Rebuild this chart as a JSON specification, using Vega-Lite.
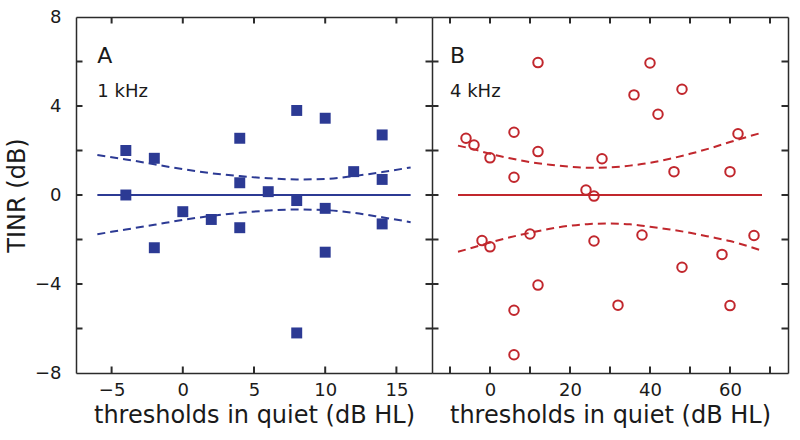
{
  "$schema": "https://vega.github.io/schema/vega-lite/v6.json",
  "background": "white",
  "padding": {"left": 5, "top": 8, "right": 5, "bottom": 5},
  "spacing": 0,
  "config": {
    "font": "DejaVu Sans",
    "view": {"stroke": null},
    "axis": {
      "grid": false, "domain": true, "domainColor": "#2b2b2b", "domainWidth": 1.5, "ticks": false,
      "labelColor": "#1a1a1a", "labelFontSize": 18, "labelFont": "DejaVu Sans", "labelFlush": false, "labelOverlap": false,
      "titleFontSize": 24, "titleFontWeight": "normal", "titleColor": "#1a1a1a", "titleFont": "DejaVu Sans"
    }
  },
  "datasets": {
    "pts1": [
      {"x": -4, "y": 2.0}, {"x": -4, "y": 0.0}, {"x": -2, "y": 1.65}, {"x": -2, "y": -2.37},
      {"x": 0, "y": -0.75}, {"x": 2, "y": -1.1}, {"x": 4, "y": 2.55}, {"x": 4, "y": 0.55},
      {"x": 4, "y": -1.47}, {"x": 6, "y": 0.15}, {"x": 8, "y": 3.8}, {"x": 8, "y": -0.25},
      {"x": 8, "y": -6.2}, {"x": 10, "y": 3.45}, {"x": 10, "y": -0.6}, {"x": 10, "y": -2.57},
      {"x": 12, "y": 1.05}, {"x": 14, "y": 2.7}, {"x": 14, "y": 0.7}, {"x": 14, "y": -1.3}
    ],
    "zero1": [{"x": -6, "y": 0}, {"x": 16, "y": 0}],
    "band1": [
      {"x": -6, "y": 1.8, "b": "up"}, {"x": -4, "y": 1.6, "b": "up"}, {"x": -2, "y": 1.38, "b": "up"},
      {"x": 0, "y": 1.16, "b": "up"}, {"x": 2, "y": 0.98, "b": "up"}, {"x": 4, "y": 0.85, "b": "up"},
      {"x": 6, "y": 0.75, "b": "up"}, {"x": 8, "y": 0.7, "b": "up"}, {"x": 10, "y": 0.72, "b": "up"},
      {"x": 12, "y": 0.85, "b": "up"}, {"x": 14, "y": 1.03, "b": "up"}, {"x": 16, "y": 1.24, "b": "up"},
      {"x": -6, "y": -1.76, "b": "lo"}, {"x": -4, "y": -1.55, "b": "lo"}, {"x": -2, "y": -1.34, "b": "lo"},
      {"x": 0, "y": -1.12, "b": "lo"}, {"x": 2, "y": -0.94, "b": "lo"}, {"x": 4, "y": -0.8, "b": "lo"},
      {"x": 6, "y": -0.7, "b": "lo"}, {"x": 8, "y": -0.65, "b": "lo"}, {"x": 10, "y": -0.68, "b": "lo"},
      {"x": 12, "y": -0.8, "b": "lo"}, {"x": 14, "y": -1.0, "b": "lo"}, {"x": 16, "y": -1.22, "b": "lo"}
    ],
    "xt1": [
      {"v": -5, "edge": 8}, {"v": 0, "edge": 8}, {"v": 5, "edge": 8}, {"v": 10, "edge": 8}, {"v": 15, "edge": 8},
      {"v": -5, "edge": -8}, {"v": 0, "edge": -8}, {"v": 5, "edge": -8}, {"v": 10, "edge": -8}, {"v": 15, "edge": -8}
    ],
    "yt1": [
      {"v": -6, "edge": -7.5}, {"v": -4, "edge": -7.5}, {"v": -2, "edge": -7.5}, {"v": 0, "edge": -7.5},
      {"v": 2, "edge": -7.5}, {"v": 4, "edge": -7.5}, {"v": 6, "edge": -7.5},
      {"v": -6, "edge": 17.5}, {"v": -4, "edge": 17.5}, {"v": -2, "edge": 17.5}, {"v": 0, "edge": 17.5},
      {"v": 2, "edge": 17.5}, {"v": 4, "edge": 17.5}, {"v": 6, "edge": 17.5}
    ],
    "lab1": [{"x": -6, "y": 5.95, "t": "A"}],
    "freq1": [{"x": -6, "y": 4.42, "t": "1  kHz"}],
    "pts2": [
      {"x": -6, "y": 2.55}, {"x": -4, "y": 2.25}, {"x": 0, "y": 1.67}, {"x": 6, "y": 2.82},
      {"x": 6, "y": 0.8}, {"x": 12, "y": 5.95}, {"x": 12, "y": 1.95}, {"x": 24, "y": 0.22},
      {"x": 26, "y": -0.05}, {"x": 28, "y": 1.63}, {"x": 36, "y": 4.5}, {"x": 40, "y": 5.93},
      {"x": 42, "y": 3.63}, {"x": 46, "y": 1.05}, {"x": 48, "y": 4.75}, {"x": 60, "y": 1.05},
      {"x": 62, "y": 2.75}, {"x": -2, "y": -2.05}, {"x": 0, "y": -2.33}, {"x": 10, "y": -1.75},
      {"x": 26, "y": -2.07}, {"x": 38, "y": -1.8}, {"x": 66, "y": -1.82}, {"x": 58, "y": -2.67},
      {"x": 48, "y": -3.25}, {"x": 12, "y": -4.05}, {"x": 6, "y": -5.18}, {"x": 32, "y": -4.95},
      {"x": 60, "y": -4.97}, {"x": 6, "y": -7.18}
    ],
    "zero2": [{"x": -8, "y": 0}, {"x": 68, "y": 0}],
    "band2": [
      {"x": -8, "y": 2.22, "b": "up"}, {"x": -4, "y": 2.05, "b": "up"}, {"x": 0, "y": 1.85, "b": "up"},
      {"x": 5, "y": 1.65, "b": "up"}, {"x": 10, "y": 1.48, "b": "up"}, {"x": 15, "y": 1.36, "b": "up"},
      {"x": 20, "y": 1.27, "b": "up"}, {"x": 25, "y": 1.22, "b": "up"}, {"x": 30, "y": 1.24, "b": "up"},
      {"x": 35, "y": 1.32, "b": "up"}, {"x": 40, "y": 1.45, "b": "up"}, {"x": 45, "y": 1.63, "b": "up"},
      {"x": 50, "y": 1.85, "b": "up"}, {"x": 55, "y": 2.1, "b": "up"}, {"x": 60, "y": 2.38, "b": "up"},
      {"x": 65, "y": 2.65, "b": "up"}, {"x": 68, "y": 2.8, "b": "up"},
      {"x": -8, "y": -2.55, "b": "lo"}, {"x": -4, "y": -2.35, "b": "lo"}, {"x": 0, "y": -2.14, "b": "lo"},
      {"x": 5, "y": -1.9, "b": "lo"}, {"x": 10, "y": -1.7, "b": "lo"}, {"x": 15, "y": -1.52, "b": "lo"},
      {"x": 20, "y": -1.38, "b": "lo"}, {"x": 25, "y": -1.3, "b": "lo"}, {"x": 30, "y": -1.28, "b": "lo"},
      {"x": 35, "y": -1.32, "b": "lo"}, {"x": 40, "y": -1.43, "b": "lo"}, {"x": 45, "y": -1.55, "b": "lo"},
      {"x": 50, "y": -1.7, "b": "lo"}, {"x": 55, "y": -1.88, "b": "lo"}, {"x": 60, "y": -2.07, "b": "lo"},
      {"x": 65, "y": -2.33, "b": "lo"}, {"x": 68, "y": -2.5, "b": "lo"}
    ],
    "xt2": [
      {"v": -10, "edge": 8}, {"v": 0, "edge": 8}, {"v": 10, "edge": 8}, {"v": 20, "edge": 8}, {"v": 30, "edge": 8},
      {"v": 40, "edge": 8}, {"v": 50, "edge": 8}, {"v": 60, "edge": 8}, {"v": 70, "edge": 8},
      {"v": -10, "edge": -8}, {"v": 0, "edge": -8}, {"v": 10, "edge": -8}, {"v": 20, "edge": -8}, {"v": 30, "edge": -8},
      {"v": 40, "edge": -8}, {"v": 50, "edge": -8}, {"v": 60, "edge": -8}, {"v": 70, "edge": -8}
    ],
    "yt2": [
      {"v": -6, "edge": -14.5}, {"v": -4, "edge": -14.5}, {"v": -2, "edge": -14.5}, {"v": 0, "edge": -14.5},
      {"v": 2, "edge": -14.5}, {"v": 4, "edge": -14.5}, {"v": 6, "edge": -14.5},
      {"v": -6, "edge": 74.5}, {"v": -4, "edge": 74.5}, {"v": -2, "edge": 74.5}, {"v": 0, "edge": 74.5},
      {"v": 2, "edge": 74.5}, {"v": 4, "edge": 74.5}, {"v": 6, "edge": 74.5}
    ],
    "lab2": [{"x": -10, "y": 5.95, "t": "B"}],
    "freq2": [{"x": -10, "y": 4.42, "t": "4  kHz"}]
  },
  "hconcat": [
    {
      "width": 356,
      "height": 356,
      "resolve": {"axis": {"x": "independent", "y": "independent"}},
      "layer": [
        {
          "data": {"name": "zero1"},
          "mark": {"type": "line", "color": "#2c3a94", "strokeWidth": 2},
          "encoding": {
            "x": {"field": "x", "type": "quantitative", "scale": {"domain": [-7.5, 17.5], "nice": false, "zero": false},
                  "axis": {"orient": "top", "values": [-5, 0, 5, 10, 15], "labels": false, "title": null}},
            "y": {"field": "y", "type": "quantitative", "scale": {"domain": [-8, 8], "nice": false}, "axis": null}
          }
        },
        {
          "data": {"name": "xt1"},
          "mark": {"type": "tick", "orient": "vertical", "size": 13, "thickness": 2, "color": "#2b2b2b", "opacity": 1, "clip": true},
          "encoding": {
            "x": {"field": "v", "type": "quantitative", "axis": null},
            "y": {"field": "edge", "type": "quantitative", "axis": null}
          }
        },
        {
          "data": {"name": "yt1"},
          "mark": {"type": "tick", "orient": "horizontal", "size": 13, "thickness": 2, "color": "#2b2b2b", "opacity": 1, "clip": true},
          "encoding": {
            "x": {"field": "edge", "type": "quantitative", "axis": null},
            "y": {"field": "v", "type": "quantitative", "axis": null}
          }
        },
        {
          "data": {"name": "band1"},
          "mark": {"type": "line", "color": "#2c3a94", "strokeWidth": 2, "strokeDash": [8, 5], "interpolate": "monotone"},
          "encoding": {
            "x": {"field": "x", "type": "quantitative", "axis": null},
            "y": {"field": "y", "type": "quantitative", "axis": null},
            "detail": {"field": "b"}
          }
        },
        {
          "data": {"name": "pts1"},
          "mark": {"type": "point", "shape": "square", "filled": true, "size": 120, "color": "#2c3a94", "opacity": 1},
          "encoding": {
            "x": {"field": "x", "type": "quantitative",
                  "axis": {"orient": "bottom", "values": [-5, 0, 5, 10, 15], "labelPadding": 8, "title": "thresholds in quiet (dB HL)", "titlePadding": 4}},
            "y": {"field": "y", "type": "quantitative",
                  "axis": {"orient": "left", "values": [-8, -4, 0, 4, 8], "labelPadding": 15, "title": "TINR (dB)", "titlePadding": 5}}
          }
        },
        {
          "data": {"name": "lab1"},
          "mark": {"type": "text", "align": "left", "baseline": "alphabetic", "fontSize": 22, "color": "#1a1a1a"},
          "encoding": {
            "x": {"field": "x", "type": "quantitative", "axis": null},
            "y": {"field": "y", "type": "quantitative", "axis": null},
            "text": {"field": "t"}
          }
        },
        {
          "data": {"name": "freq1"},
          "mark": {"type": "text", "align": "left", "baseline": "alphabetic", "fontSize": 18, "color": "#1a1a1a"},
          "encoding": {
            "x": {"field": "x", "type": "quantitative", "axis": null},
            "y": {"field": "y", "type": "quantitative", "axis": null},
            "text": {"field": "t"}
          }
        }
      ]
    },
    {
      "width": 356,
      "height": 356,
      "resolve": {"axis": {"x": "independent", "y": "independent"}},
      "layer": [
        {
          "data": {"name": "zero2"},
          "mark": {"type": "line", "color": "#c1272d", "strokeWidth": 2},
          "encoding": {
            "x": {"field": "x", "type": "quantitative", "scale": {"domain": [-14.5, 74.5], "nice": false, "zero": false},
                  "axis": {"orient": "top", "values": [0, 20, 40, 60], "labels": false, "title": null}},
            "y": {"field": "y", "type": "quantitative", "scale": {"domain": [-8, 8], "nice": false},
                  "axis": {"orient": "right", "values": [-4, 0, 4], "labels": false, "title": null}}
          }
        },
        {
          "data": {"name": "xt2"},
          "mark": {"type": "tick", "orient": "vertical", "size": 13, "thickness": 2, "color": "#2b2b2b", "opacity": 1, "clip": true},
          "encoding": {
            "x": {"field": "v", "type": "quantitative", "axis": null},
            "y": {"field": "edge", "type": "quantitative", "axis": null}
          }
        },
        {
          "data": {"name": "yt2"},
          "mark": {"type": "tick", "orient": "horizontal", "size": 13, "thickness": 2, "color": "#2b2b2b", "opacity": 1, "clip": true},
          "encoding": {
            "x": {"field": "edge", "type": "quantitative", "axis": null},
            "y": {"field": "v", "type": "quantitative", "axis": null}
          }
        },
        {
          "data": {"name": "band2"},
          "mark": {"type": "line", "color": "#c1272d", "strokeWidth": 2, "strokeDash": [8, 5], "interpolate": "monotone"},
          "encoding": {
            "x": {"field": "x", "type": "quantitative", "axis": null},
            "y": {"field": "y", "type": "quantitative", "axis": null},
            "detail": {"field": "b"}
          }
        },
        {
          "data": {"name": "pts2"},
          "mark": {"type": "point", "shape": "circle", "filled": false, "size": 90, "strokeWidth": 2, "color": "#c1272d", "opacity": 1},
          "encoding": {
            "x": {"field": "x", "type": "quantitative",
                  "axis": {"orient": "bottom", "values": [0, 20, 40, 60], "labelPadding": 8, "title": "thresholds in quiet (dB HL)", "titlePadding": 4}},
            "y": {"field": "y", "type": "quantitative",
                  "axis": {"orient": "left", "values": [-4, 0, 4], "labels": false, "title": null}}
          }
        },
        {
          "data": {"name": "lab2"},
          "mark": {"type": "text", "align": "left", "baseline": "alphabetic", "fontSize": 22, "color": "#1a1a1a"},
          "encoding": {
            "x": {"field": "x", "type": "quantitative", "axis": null},
            "y": {"field": "y", "type": "quantitative", "axis": null},
            "text": {"field": "t"}
          }
        },
        {
          "data": {"name": "freq2"},
          "mark": {"type": "text", "align": "left", "baseline": "alphabetic", "fontSize": 18, "color": "#1a1a1a"},
          "encoding": {
            "x": {"field": "x", "type": "quantitative", "axis": null},
            "y": {"field": "y", "type": "quantitative", "axis": null},
            "text": {"field": "t"}
          }
        }
      ]
    }
  ]
}
